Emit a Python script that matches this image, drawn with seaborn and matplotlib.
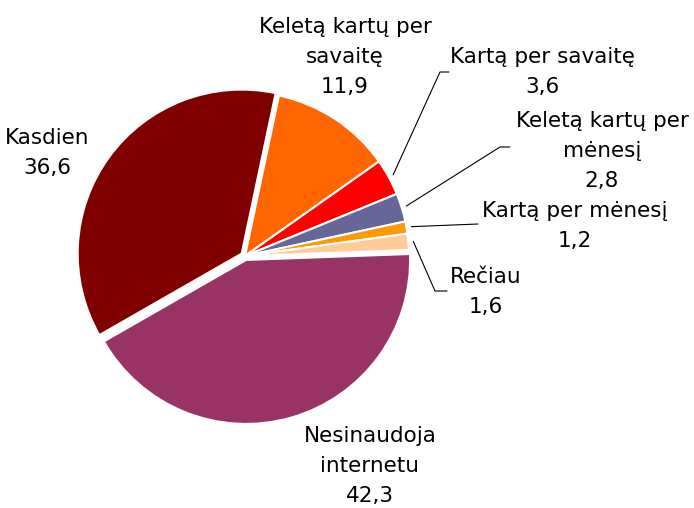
import matplotlib
matplotlib.use("Agg")
import matplotlib.pyplot as plt
import numpy as np
import seaborn as sns

# data
categories = ["Kasdien", "Keletą kartų per\nsavaitę", "Kartą per savaitę",
              "Keletą kartų per\nmėnesį", "Kartą per mėnesį", "Rečiau",
              "Nesinaudoja\ninternetu"]
values = [36.6, 11.9, 3.6, 2.8, 1.2, 1.6, 42.3]
colors = ["#800000", "#FF6600", "#FF0000", "#666699", "#FF9900", "#FFCC99", "#993366"]
explode = [0.025, 0, 0, 0, 0, 0, 0.025]

# layout (pixels in the 694x508 picture)
W, H = 694, 508
CX, CY, R = 245, 256, 164
label_pos = [(47, 153), (345, 57), (542, 72), (602, 151), (575, 226), (486, 292), (370, 466)]
# leader lines: (elbow, end) in pixels, None = no leader
leaders = [None, None, ((440, 72), (449, 72)), ((500, 147), (510, 147)),
           ((478, 224), (478, 224)), ((435, 291), (447, 291)), None]


def px(x, y):
    return (x - CX) / R, (CY - y) / R


sns.set_style("white")
plt.rcParams["font.family"] = ["DejaVu Sans"]

fig = plt.figure(figsize=(W / 100, H / 100), dpi=100)
ax = fig.add_axes([0, 0, 1, 1])

wedges, _ = ax.pie(values, colors=colors, explode=explode, startangle=209.8,
                   counterclock=False, radius=1,
                   wedgeprops=dict(edgecolor="white", linewidth=1.5))

for i, (cat, val) in enumerate(zip(categories, values)):
    lx, ly = px(*label_pos[i])
    txt = f"{cat}\n{val:.1f}".replace(".", ",")
    ax.text(lx, ly, txt, ha="center", va="center", multialignment="center",
            fontsize=15.5, linespacing=1.6, color="black")
    if leaders[i] is not None:
        w = wedges[i]
        ang = np.deg2rad((w.theta1 + w.theta2) / 2)
        sx, sy = 1.03 * np.cos(ang), 1.03 * np.sin(ang)
        ex, ey = px(*leaders[i][0])
        fx, fy = px(*leaders[i][1])
        ax.plot([sx, ex, fx], [sy, ey, fy], color="black", lw=0.8)

ax.set_xlim(-CX / R, (W - CX) / R)
ax.set_ylim(-(H - CY) / R, CY / R)
ax.set_aspect("auto")
ax.axis("off")

fig.savefig("out.png", dpi=100)
